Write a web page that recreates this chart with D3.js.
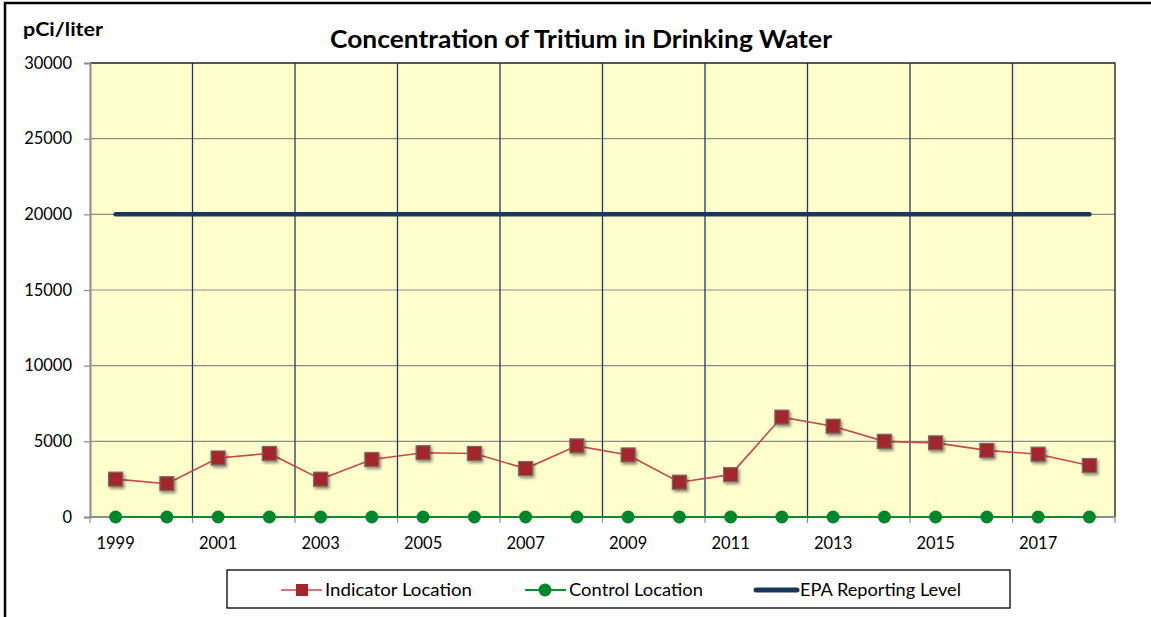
<!DOCTYPE html>
<html>
<head>
<meta charset="utf-8">
<script src="https://cdn.jsdelivr.net/npm/d3@7"></script>
<style>
  body { margin: 0; background: #fff; }
  text { font-family: Lato, "Open Sans", sans-serif; fill: #000; }
</style>
</head>
<body>
<div id="chart"></div>
<script>
// data
let years = [1999, 2000, 2001, 2002, 2003, 2004, 2005, 2006, 2007, 2008,
             2009, 2010, 2011, 2012, 2013, 2014, 2015, 2016, 2017, 2018];
let indicator = [2500, 2200, 3900, 4200, 2500, 3800, 4250, 4200, 3200, 4700,
                 4100, 2300, 2800, 6600, 6000, 5000, 4900, 4400, 4150, 3400];
let control = [0, 0, 0, 0, 0, 0, 0, 0, 0, 0, 0, 0, 0, 0, 0, 0, 0, 0, 0, 0];
let epaLevel = [20000, 20000, 20000, 20000, 20000, 20000, 20000, 20000, 20000, 20000,
                20000, 20000, 20000, 20000, 20000, 20000, 20000, 20000, 20000, 20000];
let yTicks = [0, 5000, 10000, 15000, 20000, 25000, 30000];
let seriesNames = ['Indicator Location', 'Control Location', 'EPA Reporting Level'];

let W = 1151, H = 617;
let margin = { top: 63, right: 36, bottom: 100, left: 90 };
let width = W - margin.left - margin.right;
let height = H - margin.top - margin.bottom;

let svg = d3.select('#chart')
    .append('svg')
    .attr('width', W)
    .attr('height', H);

// outer frame
svg.append('rect')
    .attr('x', 5).attr('y', 3)
    .attr('width', W + 10).attr('height', H + 10)
    .attr('fill', 'none')
    .attr('stroke', '#000')
    .attr('stroke-width', 2.5);

let defs = svg.append('defs');
let f = defs.append('filter').attr('id', 'shadow')
    .attr('x', '-50%').attr('y', '-50%').attr('width', '200%').attr('height', '200%');
f.append('feDropShadow')
    .attr('dx', 1.5).attr('dy', 2).attr('stdDeviation', 1.5)
    .attr('flood-color', '#000').attr('flood-opacity', 0.45);

svg.append('text')
    .attr('x', 330).attr('y', 48)
    .attr('textLength', 502)
    .attr('lengthAdjust', 'spacingAndGlyphs')
    .style('font-size', '24px').style('font-weight', 'bold')
    .text('Concentration of Tritium in Drinking Water');

svg.append('text')
    .attr('x', 23).attr('y', 36)
    .attr('textLength', 80)
    .attr('lengthAdjust', 'spacingAndGlyphs')
    .style('font-size', '19px').style('font-weight', 'bold')
    .text('pCi/liter');

let g = svg.append('g')
    .attr('transform', `translate(${margin.left}, ${margin.top})`);

let yScale = d3.scaleLinear().domain([0, 30000]).range([height, 0]);
let xScale = d3.scaleBand().domain(years).range([0, width]);
let cx = d => xScale(d) + xScale.bandwidth() / 2;

g.append('rect')
    .attr('width', width).attr('height', height)
    .attr('fill', '#FFFFCC');

// horizontal grid
g.selectAll('.hgrid')
    .data(yTicks.slice(1))
    .enter().append('line')
    .attr('x1', 0).attr('x2', width)
    .attr('y1', d => yScale(d)).attr('y2', d => yScale(d))
    .attr('stroke', '#8c8c8c').attr('stroke-width', 1.2);

// vertical grid every 2 years
let vgrid = years.filter((d, i) => i > 0 && i % 2 === 0);
g.selectAll('.vgrid')
    .data(vgrid)
    .enter().append('line')
    .attr('x1', d => xScale(d)).attr('x2', d => xScale(d))
    .attr('y1', 0).attr('y2', height)
    .attr('stroke', '#1F3864').attr('stroke-width', 1.3);

// plot border top/right
g.append('path')
    .attr('d', `M0,0H${width}V${height}`)
    .attr('fill', 'none')
    .attr('stroke', '#333').attr('stroke-width', 1.5);

// y axis
let yAxis = d3.axisLeft(yScale).tickValues(yTicks).tickSize(6).tickPadding(12).tickFormat(d3.format('d'));
let ya = g.append('g').call(yAxis);
ya.select('.domain').attr('stroke', '#8c8c8c').attr('stroke-width', 2);
ya.selectAll('.tick line').attr('stroke', '#8c8c8c').attr('stroke-width', 1.2);
ya.selectAll('text').style('font-size', '16.5px').style('font-family', 'Lato, sans-serif');

// x axis
let xa = g.append('g').attr('transform', `translate(0, ${height})`);
xa.append('line').attr('x1', 0).attr('x2', width)
    .attr('stroke', '#8c8c8c').attr('stroke-width', 2);
let xTickPos = years.filter((d, i) => i % 2 === 0).map(d => xScale(d)).concat([width]);
xa.selectAll('.xt')
    .data(xTickPos)
    .enter().append('line')
    .attr('x1', d => d).attr('x2', d => d)
    .attr('y1', 0).attr('y2', 6)
    .attr('stroke', '#8c8c8c').attr('stroke-width', 1.2);
xa.selectAll('.xl')
    .data(years.filter((d, i) => i % 2 === 0))
    .enter().append('text')
    .attr('x', d => cx(d)).attr('y', 32)
    .attr('text-anchor', 'middle')
    .style('font-size', '16.5px')
    .text(d => d);

// EPA line
g.append('path')
    .datum(epaLevel)
    .attr('d', d3.line().x((d, i) => cx(years[i])).y(d => yScale(d)))
    .attr('fill', 'none')
    .attr('stroke', '#17375E').attr('stroke-width', 4.5)
    .attr('stroke-linecap', 'round');

// control line + points
g.append('path')
    .datum(control)
    .attr('d', d3.line().x((d, i) => cx(years[i])).y(d => yScale(d)))
    .attr('fill', 'none')
    .attr('stroke', '#138a2e').attr('stroke-width', 2);
g.selectAll('.ctl')
    .data(control)
    .enter().append('circle')
    .attr('cx', (d, i) => cx(years[i]))
    .attr('cy', d => yScale(d))
    .attr('r', 6.5)
    .attr('fill', '#00862B');

// indicator line + squares
g.append('path')
    .datum(indicator)
    .attr('d', d3.line().x((d, i) => cx(years[i])).y(d => yScale(d)))
    .attr('fill', 'none')
    .attr('stroke', '#C8474A').attr('stroke-width', 1.6);
g.selectAll('.ind')
    .data(indicator)
    .enter().append('rect')
    .attr('x', (d, i) => cx(years[i]) - 7)
    .attr('y', d => yScale(d) - 7)
    .attr('width', 14).attr('height', 14)
    .attr('fill', '#A2262B')
    .attr('stroke', '#7a6a6a').attr('stroke-width', 1.2)
    .attr('filter', 'url(#shadow)');

// legend
let lg = svg.append('g');
lg.append('rect')
    .attr('x', 227).attr('y', 570)
    .attr('width', 783).attr('height', 38)
    .attr('fill', '#fff')
    .attr('stroke', '#000').attr('stroke-width', 1.3);

let legendX = [281, 525, 756];
let legendW = [147, 134, 161];
let ly = 590;
// indicator
lg.append('line').attr('x1', legendX[0]).attr('x2', legendX[0] + 41)
    .attr('y1', ly).attr('y2', ly).attr('stroke', '#C8474A').attr('stroke-width', 1.6);
lg.append('rect').attr('x', legendX[0] + 15).attr('y', ly - 6)
    .attr('width', 12).attr('height', 12).attr('fill', '#A2262B');
// control
lg.append('line').attr('x1', legendX[1]).attr('x2', legendX[1] + 41)
    .attr('y1', ly).attr('y2', ly).attr('stroke', '#138a2e').attr('stroke-width', 2);
lg.append('circle').attr('cx', legendX[1] + 20).attr('cy', ly).attr('r', 6.5).attr('fill', '#00862B');
// epa
lg.append('line').attr('x1', legendX[2]).attr('x2', legendX[2] + 41)
    .attr('y1', ly).attr('y2', ly).attr('stroke', '#17375E').attr('stroke-width', 5)
    .attr('stroke-linecap', 'round');

lg.selectAll('.lt')
    .data(seriesNames)
    .enter().append('text')
    .attr('x', (d, i) => legendX[i] + 44)
    .attr('y', ly + 6)
    .attr('textLength', (d, i) => legendW[i])
    .attr('lengthAdjust', 'spacingAndGlyphs')
    .style('font-size', '18px')
    .text(d => d);
</script>
</body>
</html>
